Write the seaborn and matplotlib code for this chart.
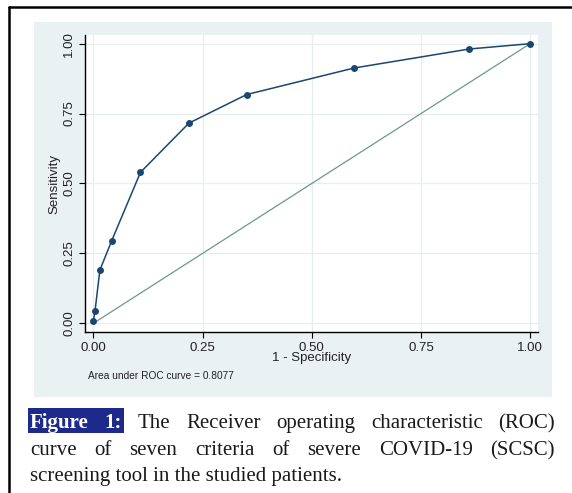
#!/usr/bin/env python3
"""ROC curve of the SCSC screening tool (Stata-like look) plus figure caption."""

import matplotlib
matplotlib.use("Agg")
import matplotlib.pyplot as plt
from matplotlib.lines import Line2D
from matplotlib.patches import Rectangle
import seaborn as sns

# ROC points
fpr = [0.0, 0.0, 0.004, 0.015, 0.042, 0.108, 0.219, 0.351, 0.597, 0.861, 1.0]
tpr = [0.0, 0.015, 0.045, 0.19, 0.295, 0.54, 0.716, 0.818, 0.913, 0.981, 1.0]
ref_x = [0.0, 1.0]
ref_y = [0.0, 1.0]
ticks = [0.0, 0.25, 0.5, 0.75, 1.0]
tick_labels = ["0.00", "0.25", "0.50", "0.75", "1.00"]
auc_text = "Area under ROC curve = 0.8077"
caption_lines = [
    ["Figure", "1:", "The", "Receiver", "operating", "characteristic", "(ROC)"],
    ["curve", "of", "seven", "criteria", "of", "severe", "COVID-19", "(SCSC)"],
    ["screening tool in the studied patients."],
]
highlighted = ["Figure", "1:"]

W, H = 572, 493
NAVY = "#1a476f"
DIAG = "#6a988f"
PANEL = "#eaf1f3"
GRID = "#e6eeee"
HILITE = "#1d2a8c"


def fx(px):
    return px / W


def fy(py):
    return 1 - py / H


def main():
    sns.set_style("white")
    plt.rcParams["font.family"] = ["Liberation Sans", "DejaVu Sans"]

    fig = plt.figure(figsize=(W / 100, H / 100), dpi=100)

    # Stata graph region
    fig.add_artist(Rectangle((fx(34), fy(397)), fx(518), 375 / H,
                             transform=fig.transFigure, facecolor=PANEL,
                             edgecolor="none", zorder=0))
    # outer page border
    fig.add_artist(Line2D([fx(8.5), fx(8.5)], [0, fy(6.5)], color="black", lw=1.8))
    fig.add_artist(Line2D([fx(8.5), 1], [fy(6.5), fy(6.5)], color="black", lw=1.8))

    ax = fig.add_axes([fx(85), fy(332), fx(453), 297 / H])
    ax.set_facecolor("white")

    sns.lineplot(x=ref_x, y=ref_y, ax=ax, color=DIAG, lw=0.9, zorder=2)
    sns.lineplot(x=fpr, y=tpr, ax=ax, color=NAVY, lw=1.1, sort=False,
                 marker="o", markersize=5, markeredgewidth=0, zorder=3)

    ax.set_xlim(-0.019, 1.018)
    ax.set_ylim(-0.031, 1.031)
    ax.set_xticks(ticks)
    ax.set_yticks(ticks)
    ax.set_xticklabels(tick_labels, fontsize=9.5, color="#222222")
    ax.set_yticklabels(tick_labels, fontsize=9.5, color="#222222",
                       rotation=90, va="center")
    ax.tick_params(axis="both", direction="out", length=4, width=0.8,
                   color="black", pad=3)
    ax.tick_params(axis="x", bottom=True)
    ax.tick_params(axis="y", left=True)
    ax.grid(True, color=GRID, lw=0.9)
    for side in ["top", "right"]:
        ax.spines[side].set_visible(False)
    for side in ["left", "bottom"]:
        ax.spines[side].set_color("black")
        ax.spines[side].set_linewidth(1.0)

    ax.set_xlabel("1 - Specificity", fontsize=9.5, color="#222222", labelpad=-1)
    ax.set_ylabel("Sensitivity", fontsize=9.5, color="#222222", labelpad=2)

    fig.text(fx(88), fy(376), auc_text, fontsize=7.3, color="#222222",
             va="center", ha="left")

    # justified caption
    fig.canvas.draw()
    renderer = fig.canvas.get_renderer()
    left_px, right_px = 30, 555
    baselines = [428, 455, 481]
    for i, words in enumerate(caption_lines):
        texts = []
        for w in words:
            if w in highlighted:
                t = fig.text(0, 0, w, fontweight="bold", color="white",
                             family="Liberation Serif", fontsize=15,
                             va="baseline", zorder=5)
            else:
                t = fig.text(0, 0, w, family="Liberation Serif", fontsize=15,
                             color="#1a1a1a", va="baseline")
            texts.append(t)
        widths = [t.get_window_extent(renderer).width for t in texts]
        if len(texts) > 1 and i < len(caption_lines) - 1:
            gap = (right_px - left_px - sum(widths)) / (len(texts) - 1)
        else:
            gap = 6
        x = left_px
        hl_end = None
        for w, t, wd in zip(words, texts, widths):
            t.set_position((fx(x), fy(baselines[i])))
            if w in highlighted:
                hl_end = x + wd
            x += wd + gap
        if hl_end is not None:
            fig.add_artist(Rectangle((fx(left_px - 2), fy(433)),
                                     fx(hl_end + 2 - (left_px - 2)), 25 / H,
                                     transform=fig.transFigure,
                                     facecolor=HILITE, edgecolor="none",
                                     zorder=4))

    fig.savefig("out.png", dpi=100)


if __name__ == "__main__":
    main()
